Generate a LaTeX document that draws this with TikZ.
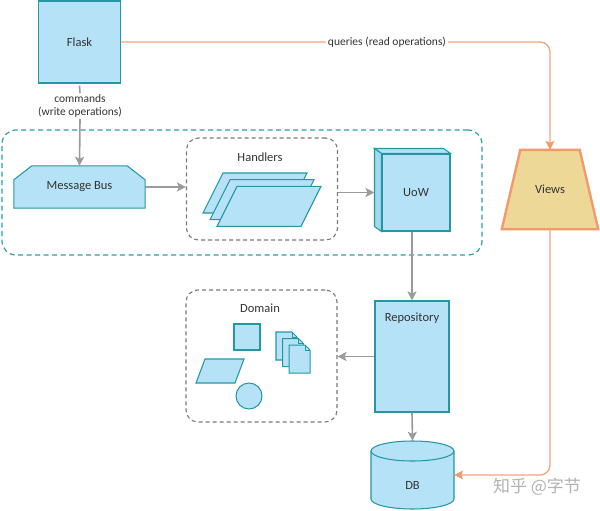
\documentclass[tikz,border=0pt]{standalone}
\usepackage{fontspec}
\setmainfont{Carlito}
\newfontfamily\cjk{Noto Sans CJK SC}
\usetikzlibrary{arrows.meta,calc,backgrounds}
\definecolor{boxfill}{HTML}{B5E2F7}
\definecolor{boxside}{HTML}{A3D8EF}
\definecolor{tealline}{HTML}{2398A2}
\definecolor{tealdash}{HTML}{2A9EA6}
\definecolor{graydash}{HTML}{7A7A7A}
\definecolor{arrgray}{HTML}{9B9B9B}
\definecolor{orangeline}{HTML}{F2A47E}
\definecolor{vieworange}{HTML}{F29A6C}
\definecolor{viewfill}{HTML}{EDD898}
\definecolor{txt}{HTML}{333333}
\begin{document}
\begin{tikzpicture}[x=1pt,y=-1pt,
  every node/.style={font=\fontsize{12.5}{14}\selectfont, text=txt},
  blk/.style={draw=tealline, fill=boxfill, line width=1.05pt},
  garrow/.style={draw=arrgray, line width=1.6pt, -{Stealth[length=9pt,width=9pt,inset=2pt]}},
  oarrow/.style={draw=orangeline, line width=1.3pt, rounded corners=10pt, -{Stealth[length=9pt,width=9pt,inset=2pt,color=vieworange]}},
  graybox/.style={draw=graydash, line width=1.1pt, dash pattern=on 4pt off 3pt, rounded corners=12pt},
  tealbox/.style={draw=tealdash, line width=1.2pt, dash pattern=on 5pt off 3.5pt, rounded corners=14pt}]
\useasboundingbox (0,0) rectangle (600,511);

% outer dashed group
\node[tealbox, minimum width=480pt, minimum height=125pt, inner sep=0] (core) at (242,192.5) {};
% handlers box
\node[graybox, minimum width=151pt, minimum height=102pt, inner sep=0] (hbox) at (262,189) {};
\node (hlabel) at (260,157) {Handlers};
% domain box
\node[graybox, minimum width=151pt, minimum height=132pt, inner sep=0] (dbox) at (261.5,356) {};
\node (dlabel) at (260,308) {Domain};

% Flask
\node[blk, minimum width=82pt, minimum height=82pt, inner sep=0] (flask) at (79.5,42) {Flask};

% Message bus
\node[minimum width=131pt, minimum height=42pt, inner sep=0] (bus) at (79.5,187) {Message Bus};
\begin{scope}[on background layer]
\draw[blk] (bus.south west) -- ($(bus.north west)+(0,14)$) -- ($(bus.north west)+(18,0)$)
  -- ($(bus.north east)+(-18,0)$) -- ($(bus.north east)+(0,14)$) -- (bus.south east) -- cycle;
\end{scope}

% handler parallelograms
\foreach \i in {0,1,2}{
  \draw[blk, shift={(7*\i,6.7*\i)}] (203,213) -- (223,173) -- (307,173) -- (287,213) -- cycle;
}

% UoW
\node[blk, minimum width=68pt, minimum height=77pt, inner sep=0] (uow) at (416,192.5) {UoW};
\draw[blk] (uow.north west) -- ++(-7,-5) -- ($(uow.north east)+(-7,-5)$) -- (uow.north east) -- cycle;
\draw[blk, fill=boxside] (uow.north west) -- ++(-7,-5) -- ($(uow.south west)+(-7,-5)$) -- (uow.south west) -- cycle;

% Views
\node[minimum width=96pt, minimum height=79pt, inner sep=0] (views) at (550,189.5) {Views};
\begin{scope}[on background layer]
\draw[draw=vieworange, fill=viewfill, line width=2.4pt] (views.south west) -- ($(views.north west)+(18.5,0)$)
  -- ($(views.north east)+(-18.5,0)$) -- (views.south east) -- cycle;
\end{scope}

% Repository
\node[blk, minimum width=74pt, minimum height=111pt, inner sep=0,
  label={[anchor=center, yshift=-18pt]north:Repository}] (repo) at (412,356.5) {};

% Domain shapes
\draw[blk] (234,324) rectangle (260,350);
\draw[blk] (196,383) -- (205,359) -- (244,359) -- (235,383) -- cycle;
\draw[blk] (249,396) circle [radius=13pt];
\foreach \i in {0,1,2}{
  \begin{scope}[shift={(6.6*\i,6.6*\i)}]
  \draw[blk] (276,332) -- (292,332) -- (297,337) -- (297,360) -- (276,360) -- cycle;
  \draw[tealline, line width=0.9pt] (292,332) -- (292,337) -- (297,337);
  \end{scope}
}

% DB cylinder
\node[minimum width=83pt, minimum height=68pt, inner sep=0] (db) at (412.5,475) {};
\begin{scope}[on background layer]
\fill[boxfill] (412.5,499) ellipse [x radius=41.5pt, y radius=10pt];
\fill[boxfill] (371,451) rectangle (454,499);
\draw[tealline, line width=1.05pt] (371,451) -- (371,499) arc[start angle=180, end angle=360, x radius=41.5pt, y radius=10pt] -- (454,451);
\draw[blk] (412.5,451) ellipse [x radius=41.5pt, y radius=10pt];
\end{scope}
\node (dbtext) at (412.5,485) {DB};

% commands label
\node[align=center, inner sep=1pt, font=\fontsize{11.5}{13.5}\selectfont] (cmd) at (80,106) {commands\\(write operations)};

% connectors
\draw[draw=arrgray, line width=1.6pt] (flask.south) ++(0,2) -- (cmd.north);
\draw[garrow] (cmd.south) -- (bus.north);
\draw[garrow] (bus.east) -- (bus.east -| hbox.west);
\draw[garrow, shorten >=7pt] (hbox.east |- uow.west) -- (uow.west);
\draw[garrow] (repo.north |- uow.south) -- (repo.north);
\draw[garrow] (repo.west) -- (repo.west -| dbox.east);
\draw[garrow] (repo.south) -- (db.north);

\draw[oarrow] (flask.east) -| node[pos=0.31, fill=white, inner sep=2pt, font=\fontsize{11.5}{13.5}\selectfont] (qlabel) {queries (read operations)} (views.north);
\draw[oarrow] (views.south) |- (db.east);

% watermark
\node[font=\cjk\fontsize{17}{19}\selectfont, text=black!30] (wm) at (537,487) {知乎 @字节};
\end{tikzpicture}
\end{document}
